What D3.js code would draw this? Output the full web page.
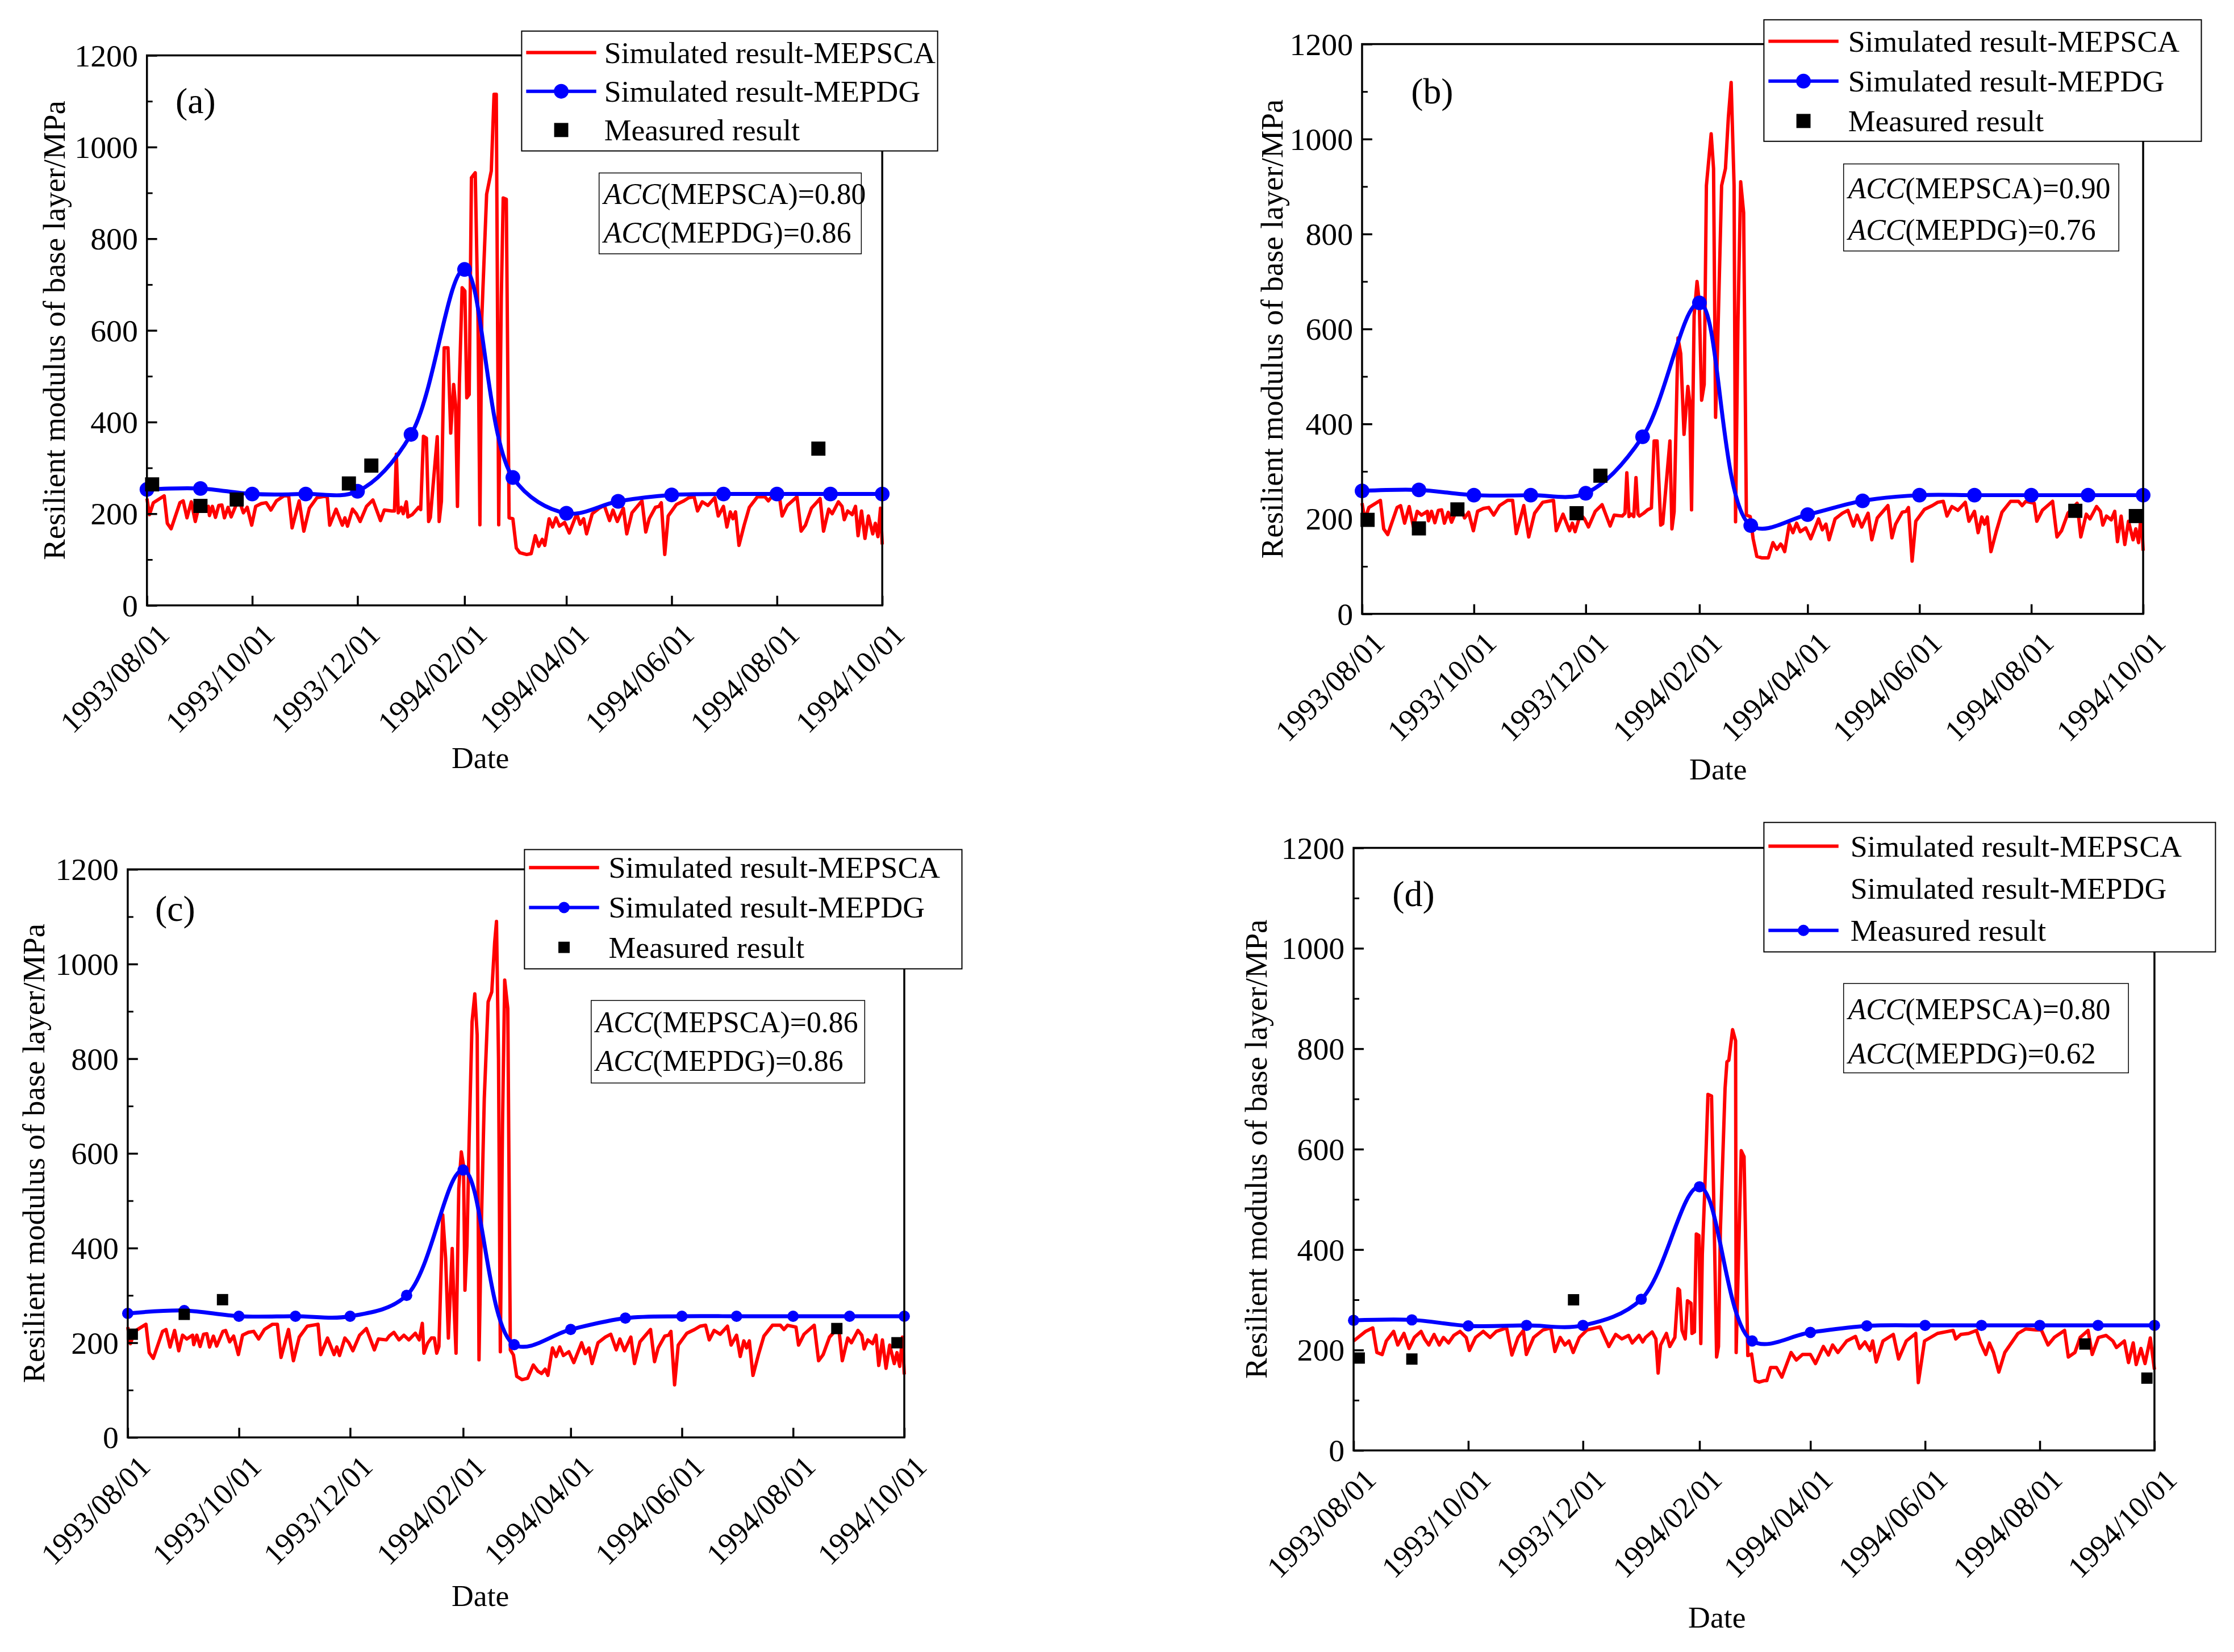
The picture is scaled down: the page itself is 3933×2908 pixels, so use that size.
<!DOCTYPE html>
<html>
<head>
<meta charset="utf-8">
<script src="https://cdn.jsdelivr.net/npm/d3@7/dist/d3.min.js"></script>
<style>
body { margin: 0; background: #fff; }
text { font-family: "Liberation Serif", "Times New Roman", serif; fill: #000; }
</style>
</head>
<body>
<svg id="svg"></svg>
<script>
const svg = d3.select("#svg")
    .attr("width", 3933)
    .attr("height", 2908)
// layout was measured a touch large, so shrink the whole drawing slightly
const root = svg.append("g").attr("transform", "scale(0.995)")

// ---- data ----
// red series: [days since 1993/08/01, MPa]
const autumnABC = [[0,233],[1.5,198],[3.7,224],[10,239],[11.8,179],[14,167],[19.1,224],[21,228],[23.2,191],[25.7,226],[28,183],[30.1,216],[32.4,208],[35.6,216],[36.2,196],[37.9,216],[39.7,192],[41.6,218],[43.4,219],[44.9,191],[47,214],[48.8,193],[52.2,224],[53.7,226],[55.9,202],[58.1,214],[60.7,175],[63,216],[66.2,222],[69.1,224],[71.8,208],[75,228],[79.4,239],[82.1,239],[84.1,169],[88.2,228],[90.9,162],[94.1,212],[98.5,235],[104.4,239],[105.9,175],[109.6,210],[113.2,175],[114.7,191],[116.2,173],[119.1,210],[121.3,200],[123.5,183],[127.2,216],[130.9,230],[135.3,185],[137.5,208],[141.9,206]]

const winterA = [[143.4,206],[144.5,330],[145.6,202],[147.4,214],[148.5,200],[150.3,226],[151.2,193],[153.7,198],[157.4,214],[158.6,209],[160.2,369],[161.9,365],[163.2,183],[164.2,192],[168.2,368],[169.3,183],[170.6,227],[172.2,562],[174.4,562],[176,376],[177.7,482],[178.8,438],[179.9,216],[181,482],[182.6,693],[184.2,686],[185.3,453],[186.7,460],[188,933],[190.2,944],[191.8,627],[192.9,176],[194,627],[196.8,897],[199.5,948],[201.1,1115],[202.4,1115],[203.8,176],[205.3,671],[206.4,889],[208.2,886],[209.8,191],[212,189],[214,125],[216,115],[220,111],[222.6,113],[225,152],[227,129]]

const winterB = [[143.4,212],[144.4,297],[145.6,205],[146.8,210],[148.2,205],[149.4,287],[150.5,210],[151.3,206],[153.6,212],[155.7,219],[157.8,223],[159.3,364],[160.9,364],[162.9,187],[164,190],[167.9,364],[169,179],[170.2,215],[172.3,581],[173.8,548],[175.6,378],[177.7,479],[178.7,447],[179.7,219],[181.1,628],[182.7,700],[183.9,657],[185.2,450],[186.6,483],[187.8,902],[190.4,1011],[191.7,938],[192.8,414],[194,577],[196.1,902],[198.2,938],[199.8,1047],[201.3,1119],[202.9,902],[203.7,194],[205,613],[206.5,910],[208.1,845],[209.6,208],[211.7,205],[213.3,158],[215.3,121],[217.9,118],[221.6,118],[224.1,150],[226.2,136],[228.3,147]]

const winterC = [[143.4,214],[146,222],[148.8,206],[151.5,216],[154.2,206],[157.8,220],[159.9,206],[161.6,241],[162.5,178],[164.5,199],[166.6,210],[168.2,210],[169.5,178],[170.7,192],[172.8,470],[174.4,378],[175.9,210],[178,399],[179,280],[180.1,178],[181.6,526],[183,603],[184.2,575],[185,311],[186.1,406],[187.3,632],[188.9,878],[190.4,937],[191.7,850],[192.7,164],[194,449],[195.6,716],[197.7,920],[199.7,941],[201.3,1046],[202.3,1090],[203.4,800],[204.4,181],[205.6,660],[206.8,966],[208.5,906],[209.9,185],[211.6,174],[213.4,129],[216.3,122],[219.4,125],[222.5,153],[225,140],[227,135]]

const springABC = [[229,144],[230.5,131],[233,189],[235,171],[237,191],[239,173],[242,181],[244.7,158],[249,200],[251,177],[253,189],[254.7,156],[258,200],[262,212],[265,218],[268,185],[270,208],[272.5,183],[276,212],[278,156],[281,202],[286.8,228],[289,160],[291,189],[294.6,214],[296.7,216],[298,224],[300,111],[302,195],[306.7,220],[311,228],[314,235],[317,237],[319,206],[321.7,226],[325,218],[329,235],[331,195],[334,216],[336,171],[338,204],[339.5,189],[341,204],[343,131],[346,175],[349,214],[353.7,237],[358,237],[360,228],[362,237],[366.6,233],[368,195],[371,218],[376.6,237],[379,162],[381.5,175],[385,212],[390,233],[392,162],[395,210],[397,200],[400.6,226],[402.7,216],[404,187],[406,206],[408.6,198],[410.5,216],[412,152],[414,206],[416,146],[418,195],[420.5,156],[422,179],[423.5,150],[425,212],[426,133]]

const redD = [[0,218],[6.4,237],[10.2,244],[12.4,195],[15.2,191],[17.4,218],[21.3,237],[23.5,210],[26.8,233],[29.5,203],[32.3,225],[35.9,237],[37.8,222],[40,210],[42.8,231],[45.6,210],[47.8,225],[50.5,214],[53.3,229],[56.6,237],[59.9,225],[61.6,199],[64.9,225],[69,237],[72.6,225],[75.9,237],[81.4,244],[84.2,190],[87.5,225],[90.3,239],[91.9,191],[95.8,225],[100.8,240],[104.9,244],[107.1,197],[109.9,225],[112.4,210],[114.6,218],[116.8,195],[120.1,225],[124.2,240],[131.1,246],[135.8,207],[139.4,231],[142.7,222],[146.3,229],[148.2,214],[151.8,229],[153.8,216],[155.3,225],[158.8,236],[160.8,222],[162,154],[163.3,210],[166.4,233],[168.2,207],[170.9,225],[172.6,322],[173.4,319],[174.7,239],[176.4,222],[177.6,298],[179.5,293],[180,233],[181.3,236],[182.3,431],[183.7,428],[184.7,213],[185.5,390],[186.7,508],[188.5,709],[190.4,706],[191.6,496],[193.1,186],[194.1,207],[195.1,437],[197.6,721],[198.6,774],[199.6,777],[201.6,838],[203.2,816],[203.5,195],[204.7,378],[206.2,597],[207.7,585],[209.7,189],[211.7,192],[213.7,139],[215.8,136],[218.3,139],[219.8,139],[221.8,165],[225,165],[227.8,146],[232.7,195],[235.5,180],[238.8,191],[243,191],[245.7,173],[249.9,207],[252.6,190],[254.8,210],[257.6,195],[262.3,218],[267,227],[269.2,203],[272,216],[274.7,199],[276.1,218],[278,176],[281.6,218],[287.1,231],[289.9,182],[294,218],[299,233],[300.4,135],[303.7,218],[310.6,233],[318.9,239],[320.3,222],[323,231],[327.2,233],[331.3,239],[333.5,214],[336.3,191],[338.2,214],[340.4,195],[343.2,156],[346.4,195],[353.4,233],[357.5,242],[363,240],[365.8,240],[369.4,210],[372.7,225],[378.2,239],[380.2,186],[383.7,195],[386.5,225],[390.7,239],[392.9,191],[396.2,225],[400.3,229],[403.9,218],[405.8,205],[410,218],[412.2,175],[414.7,214],[416.3,171],[418.8,203],[421,173],[423.8,224],[426,161]]

// MEPDG: one value per month, 1993/08/01 .. 1994/10/01
const mepdgA = [253, 255, 243, 243, 249, 373, 733, 279, 201, 227, 241, 243, 243, 243, 243]
const mepdgB = [259, 261, 250, 250, 254, 373, 655, 186, 209, 238, 250, 250, 250, 250, 250]
const mepdgC = [262, 268, 256, 256, 256, 300, 565, 196, 228, 252, 256, 256, 256, 256, 256]
const mepdgD = [259, 260, 248, 249, 249, 301, 525, 218, 235, 248, 249, 249, 249, 249, 249]

// measured: days since 1993/08/01 and values
const measDaysA = [3, 31, 52, 117, 130, 389]
const measValsA = [264, 217, 231, 266, 305, 342]
const measDaysB = [3, 31, 52, 117, 130, 389, 422]
const measValsB = [198, 180, 220, 212, 291, 217, 206]
const measDaysC = [2.5, 31, 52, 389, 422]
const measValsC = [218, 260, 291, 230, 200]
const measDaysD = [3, 31, 117, 389, 422]
const measValsD = [184, 182, 300, 212, 144]

const accMEPSCA = ["0.80", "0.90", "0.86", "0.80"]
const accMEPDG = ["0.86", "0.76", "0.86", "0.62"]

const xTickLabels = ["1993/08/01", "1993/10/01", "1993/12/01", "1994/02/01", "1994/04/01", "1994/06/01", "1994/08/01", "1994/10/01"]
const yTicks = [0, 200, 400, 600, 800, 1000, 1200]
const yMinor = [100, 300, 500, 700, 900, 1100]
const legendA = ["Simulated result-MEPSCA", "Simulated result-MEPDG", "Measured result"]

// ---- helpers ----
const parse = d3.timeParse("%Y/%m/%d")
const start = parse("1993/08/01")
const end = parse("1994/10/01")
const dayToDate = d => new Date(start.getTime() + d * 864e5)
const months = d3.timeMonth.range(start, d3.timeDay.offset(end, 1))

const panels = [
    {tag: "(a)", red: autumnABC.concat(winterA, springABC), mepdg: mepdgA, md: measDaysA, mv: measValsA,
     box: [260, 1561, 98, 1071], r: 13, sq: 25, ytitleX: 96, dateXY: [850, 1341], tagXY: [346, 178],
     leg: [923, 55, 736, 212, 38, 68.5, 146], acc: [1060, 306, 464, 143, 37, 68], dLegend: false},
    {tag: "(b)", red: autumnABC.concat(winterB, springABC), mepdg: mepdgB, md: measDaysB, mv: measValsB,
     box: [2410, 3792, 78, 1086], r: 13, sq: 25, ytitleX: 2251, dateXY: [3040, 1361], tagXY: [2534, 161],
     leg: [3121, 35, 774, 215, 38, 70.5, 149], acc: [3262, 290, 487, 154, 43, 73], dLegend: false},
    {tag: "(c)", red: autumnABC.concat(winterC, springABC), mepdg: mepdgC, md: measDaysC, mv: measValsC,
     box: [226, 1600, 1538, 2543], r: 10, sq: 20, ytitleX: 60, dateXY: [850, 2823], tagXY: [310, 1608],
     leg: [928, 1503, 774, 211, 32, 70.5, 149], acc: [1046, 1770, 484, 146, 38, 68], dLegend: false},
    {tag: "(d)", red: redD, mepdg: mepdgD, md: measDaysD, mv: measValsD,
     box: [2395, 3812, 1500, 2566], r: 10, sq: 20, ytitleX: 2223, dateXY: [3038, 2861], tagXY: [2501, 1581],
     leg: [3121, 1455, 799, 229, 42, 74.5, 153], acc: [3262, 1740, 504, 158, 45, 78], dLegend: true}
]

const RED = "#ff0000", BLUE = "#0000ff"

panels.forEach((p, i) => {
    const [x0, x1, y0, y1] = p.box
    const x = d3.scaleTime().domain([start, end]).range([x0, x1])
    const y = d3.scaleLinear().domain([0, 1200]).range([y1, y0])
    const g = root.append("g")

    // red simulated line
    const redLine = d3.line().x(d => x(dayToDate(d[0]))).y(d => y(d[1]))
    g.append("path").datum(p.red)
        .attr("d", redLine)
        .attr("fill", "none").attr("stroke", RED).attr("stroke-width", 6)
        .attr("stroke-linejoin", "round")

    // blue MEPDG spline
    const blueLine = d3.line().curve(d3.curveCatmullRom.alpha(0.5))
        .x((d, j) => x(months[j])).y(d => y(d))
    g.append("path").datum(p.mepdg)
        .attr("d", blueLine)
        .attr("fill", "none").attr("stroke", BLUE).attr("stroke-width", 7)
    g.selectAll(".dot").data(p.mepdg).join("circle")
        .attr("cx", (d, j) => x(months[j])).attr("cy", d => y(d))
        .attr("r", p.r).attr("fill", BLUE)

    // measured squares
    g.selectAll(".sq").data(p.md).join("rect")
        .attr("x", (d) => x(dayToDate(d)) - p.sq / 2)
        .attr("y", (d, j) => y(p.mv[j]) - p.sq / 2)
        .attr("width", p.sq).attr("height", p.sq).attr("fill", "#000")

    // frame
    g.append("rect").attr("x", x0).attr("y", y0).attr("width", x1 - x0).attr("height", y1 - y0)
        .attr("fill", "none").attr("stroke", "#000").attr("stroke-width", 3.5)

    // x axis ticks (inward)
    const xt = xTickLabels.map(parse)
    const xAxis = g.append("g").attr("transform", `translate(0,${y1})`)
        .call(d3.axisBottom(x).tickValues(xt).tickSize(-17).tickFormat(""))
    xAxis.select(".domain").remove()
    xAxis.selectAll("line").attr("stroke-width", 3.5)
    g.selectAll(".xl").data(xt).join("text")
        .attr("transform", d => `translate(${x(d) + 30},${y1 + 42}) rotate(-45)`)
        .attr("text-anchor", "end").attr("dominant-baseline", "central")
        .attr("font-size", 54)
        .text((d, j) => xTickLabels[j])

    // y axis
    const yAxis = g.append("g").attr("transform", `translate(${x0},0)`)
        .call(d3.axisRight(y).tickValues(yTicks).tickSize(18).tickFormat(""))
    yAxis.select(".domain").remove()
    yAxis.selectAll("line").attr("stroke-width", 3.5)
    const yAxisMinor = g.append("g").attr("transform", `translate(${x0},0)`)
        .call(d3.axisRight(y).tickValues(yMinor).tickSize(10).tickFormat(""))
    yAxisMinor.select(".domain").remove()
    yAxisMinor.selectAll("line").attr("stroke-width", 3)
    g.selectAll(".yl").data(yTicks).join("text")
        .attr("x", x0 - 16).attr("y", d => y(d))
        .attr("text-anchor", "end").attr("dominant-baseline", "central")
        .attr("font-size", 56)
        .text(d => d)

    // titles
    g.append("text")
        .attr("transform", `translate(${p.ytitleX},${(y0 + y1) / 2}) rotate(-90)`)
        .attr("text-anchor", "middle").attr("dominant-baseline", "central")
        .attr("font-size", 55)
        .text("Resilient modulus of base layer/MPa")
    g.append("text")
        .attr("x", p.dateXY[0]).attr("y", p.dateXY[1])
        .attr("text-anchor", "middle").attr("dominant-baseline", "central")
        .attr("font-size", 54)
        .text("Date")
    g.append("text")
        .attr("x", p.tagXY[0]).attr("y", p.tagXY[1])
        .attr("text-anchor", "middle").attr("dominant-baseline", "central")
        .attr("font-size", 64)
        .text(p.tag)

    // legend
    const [lx, ly, lw, lh, lr0, lgap, ltx] = p.leg
    const lg = g.append("g")
    lg.append("rect").attr("x", lx).attr("y", ly).attr("width", lw).attr("height", lh)
        .attr("fill", "#fff").attr("stroke", "#000").attr("stroke-width", 2)
    const sx0 = lx + 8, sx1 = lx + 132, sxm = (sx0 + sx1) / 2
    const row = j => ly + lr0 + j * lgap
    legendA.forEach((t, j) => {
        lg.append("text").attr("x", lx + ltx).attr("y", row(j))
            .attr("dominant-baseline", "central").attr("font-size", 54).text(t)
    })
    lg.append("line").attr("x1", sx0).attr("x2", sx1).attr("y1", row(0)).attr("y2", row(0))
        .attr("stroke", RED).attr("stroke-width", 6)
    const blueRow = p.dLegend ? 2 : 1
    lg.append("line").attr("x1", sx0).attr("x2", sx1).attr("y1", row(blueRow)).attr("y2", row(blueRow))
        .attr("stroke", BLUE).attr("stroke-width", 6)
    lg.append("circle").attr("cx", sxm).attr("cy", row(blueRow)).attr("r", p.r).attr("fill", BLUE)
    if (!p.dLegend) {
        lg.append("rect").attr("x", sxm - p.sq / 2).attr("y", row(2) - p.sq / 2)
            .attr("width", p.sq).attr("height", p.sq).attr("fill", "#000")
    }

    // ACC box
    const [ax, ay, aw, ah, ar0, agap] = p.acc
    g.append("rect").attr("x", ax).attr("y", ay).attr("width", aw).attr("height", ah)
        .attr("fill", "#fff").attr("stroke", "#000").attr("stroke-width", 1.5)
    const accRows = [["MEPSCA", accMEPSCA[i]], ["MEPDG", accMEPDG[i]]]
    accRows.forEach((r, j) => {
        const t = g.append("text").attr("x", ax + 8).attr("y", ay + ar0 + j * agap)
            .attr("dominant-baseline", "central").attr("font-size", 52)
        t.append("tspan").attr("font-style", "italic").text("ACC")
        t.append("tspan").text(`(${r[0]})=${r[1]}`)
    })
})
</script>
</body>
</html>
